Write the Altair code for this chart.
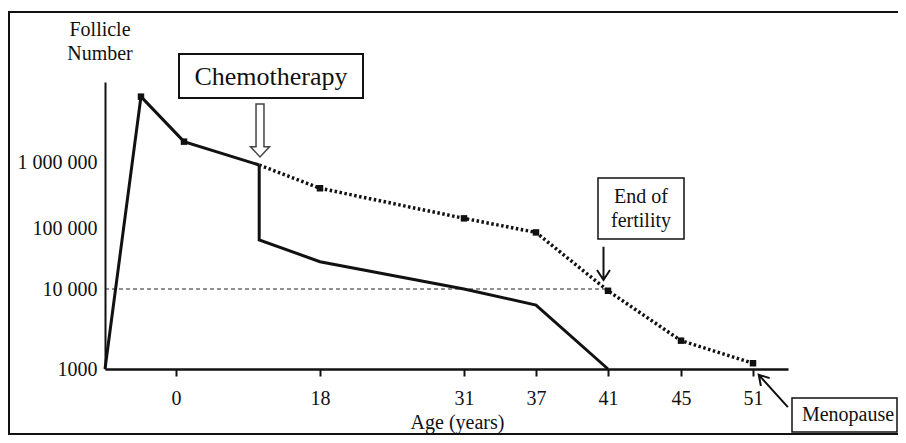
import altair as alt
import pandas as pd

# ---- data ----
normal_age = [-0.75, -0.37, 1, 10.4, 18, 31, 37, 41, 45, 51]
normal_follicles = [1000, 10500000, 2080000, 900000, 400000, 140000, 84600, 9500, 2260, 1180]
normal_marked = [False, True, True, False, True, True, True, True, True, True]
chemo_index = 3  # the point where chemotherapy is given

chemo_age = [10.4, 10.4, 18, 31, 37, 41]
chemo_follicles = [900000, 64000, 28000, 10000, 6300, 1000]

threshold_value = 10000
threshold_age = [-0.75, 41]

x_ticks = [0, 18, 31, 37, 41, 45, 51]
y_ticks = [1000, 10000, 100000, 1000000]
y_tick_labels = ["1000", "10 000", "100 000", "1 000 000"]

y_title_lines = ["Follicle", "Number"]
x_title = "Age (years)"
chemo_label = "Chemotherapy"
fertility_lines = ["End of", "fertility"]
menopause_label = "Menopause"

# ---- tables ----
normal = pd.DataFrame({"age": normal_age, "follicles": normal_follicles,
                       "marked": normal_marked, "seq": list(range(len(normal_age)))})
normal_solid = normal.iloc[: chemo_index + 1]
normal_dotted = normal.iloc[chemo_index:]
markers = normal[normal["marked"]]
chemo = pd.DataFrame({"age": chemo_age, "follicles": chemo_follicles,
                      "seq": list(range(len(chemo_age)))})
threshold = pd.DataFrame({"age": [threshold_age[0]], "age2": [threshold_age[1]],
                          "follicles": [threshold_value]})

W, H = 683, 287
PAD_L, PAD_T = 97, 74
TOTAL_W, TOTAL_H = 890, 427
FONT = "Liberation Serif"
INK = "#111111"

xscale = alt.Scale(domain=[-0.75, 0, 18, 31, 37, 41, 45, 51, 53.9],
                   range=[0, 71, 215, 359, 431, 503, 576, 648, W],
                   nice=False, zero=False)
yscale = alt.Scale(type="log", domain=[1000, 10000, 100000, 1000000, 17800000],
                   range=[H, 207, 146, 80, 0], nice=False)

label_expr = " : ".join(
    f"datum.value == {v} ? '{t}'" for v, t in zip(y_ticks, y_tick_labels)
) + " : ''"

x_axis = alt.Axis(values=x_ticks, title=x_title, titleX=352, titleY=53,
                  titleBaseline="middle", titleFont=FONT, titleFontSize=20,
                  titleFontWeight="normal", titleColor=INK,
                  labelFont=FONT, labelFontSize=20, labelColor=INK, labelPadding=12,
                  tickSize=7, tickWidth=2, tickColor=INK,
                  domainWidth=2.5, domainColor=INK, grid=False, format="d")
y_axis = alt.Axis(values=y_ticks, labelExpr=label_expr, title=None,
                  labelFont=FONT, labelFontSize=20, labelColor=INK, labelPadding=8,
                  ticks=False, domainWidth=2, domainColor=INK, grid=False)

X = alt.X("age:Q", scale=xscale, axis=x_axis)
Y = alt.Y("follicles:Q", scale=yscale, axis=y_axis)
Xn = alt.X("age:Q", scale=xscale)
Yn = alt.Y("follicles:Q", scale=yscale)

one = pd.DataFrame({"k": [0]})

border = alt.Chart(one).mark_rect(fillOpacity=0, stroke=INK, strokeWidth=2).encode(
    x=alt.value(-96), x2=alt.value(815), y=alt.value(-70), y2=alt.value(352))

thr = alt.Chart(threshold).mark_rule(color="#222222", strokeWidth=1, strokeDash=[4, 3]).encode(
    x=X, x2="age2:Q", y=Y)

solid = alt.Chart(normal_solid).mark_line(color=INK, strokeWidth=3).encode(
    x=Xn, y=Yn, order="seq:Q")
dotted = alt.Chart(normal_dotted).mark_line(color=INK, strokeWidth=3.5, strokeDash=[2.5, 2.5]).encode(
    x=Xn, y=Yn, order="seq:Q")
chemo_line = alt.Chart(chemo).mark_line(color=INK, strokeWidth=3).encode(
    x=Xn, y=Yn, order="seq:Q")
pts = alt.Chart(markers).mark_point(shape="square", filled=True, size=42, color=INK, opacity=1).encode(
    x=Xn, y=Yn)


def box(x1, x2, y1, y2, sw):
    return alt.Chart(one).mark_rect(fill="white", stroke=INK, strokeWidth=sw).encode(
        x=alt.value(x1), x2=alt.value(x2), y=alt.value(y1), y2=alt.value(y2))


def label(txt, x, y, size=20):
    return alt.Chart(pd.DataFrame({"t": [txt]})).mark_text(
        font=FONT, fontSize=size, color=INK, align="center", baseline="middle").encode(
        text="t:N", x=alt.value(x), y=alt.value(y))


def arrow(path, x, y, size, sw, color=INK, angle=0):
    kw = dict(shape=path, size=size, filled=False, stroke=color, strokeWidth=sw, opacity=1)
    if angle:
        kw["angle"] = angle
    return alt.Chart(one).mark_point(**kw).encode(x=alt.value(x), y=alt.value(y))


hollow = "M-0.15,-1L0.15,-1L0.15,0.61L0.36,0.61L0,1L-0.36,0.61L-0.15,0.61Z"
down = "M0,-1L0,1M-0.39,0.4L0,1L0.39,0.4"
up = "M0,1L0,-1M-0.27,-0.55L0,-1L0.27,-0.55"

RIGHT_EDGE = TOTAL_W - PAD_L - 1

layers = [
    border, thr, solid, dotted, chemo_line, pts,
    box(74, 258, -28, 16, 2), label(chemo_label, 166, -5, 26),
    arrow(hollow, 155, 48.5, 2809, 1.5, "#444444"),
    box(493, 579, 96, 157, 1.5), label(fertility_lines[0], 536, 115), label(fertility_lines[1], 536, 139),
    arrow(down, 498.5, 181.3, 1109, 2),
    box(687, RIGHT_EDGE, 316, 350, 1.5), label(menopause_label, 743, 333),
    arrow(up, 668.3, 309, 1900, 2, angle=318),
    label(y_title_lines[0], -5, -52), label(y_title_lines[1], -5, -28),
]

chart = alt.layer(*layers).properties(
    width=W, height=H,
    padding={"left": PAD_L, "top": PAD_T, "right": TOTAL_W - PAD_L - W,
             "bottom": TOTAL_H - PAD_T - H},
    autosize=alt.AutoSizeParams(type="none"),
    background="white",
).configure_view(stroke=None)

chart.save("out.html", embed_options={"renderer": "svg", "actions": False})
